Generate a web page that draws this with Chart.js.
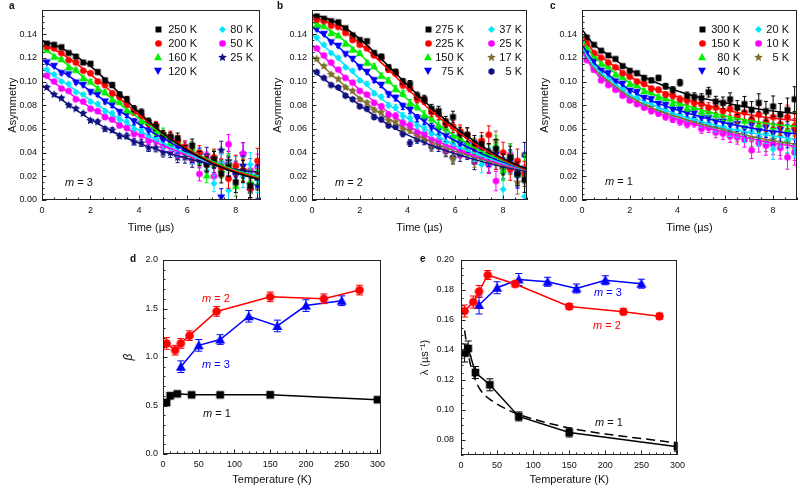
<!DOCTYPE html>
<html>
<head>
<meta charset="utf-8">
<script src="https://cdn.jsdelivr.net/npm/chart.js@4"></script>
<style>
  body { margin: 0; background: #fff; width: 800px; height: 489px; position: relative; overflow: hidden;
         font-family: 'Liberation Sans', Arial, Helvetica, sans-serif; color: #111; }
  canvas { position: absolute; }
  .tag { position: absolute; font-weight: bold; font-size: 10px; line-height: 12px; }
  .ann { position: absolute; font-size: 11px; line-height: 14px; white-space: nowrap; }
</style>
</head>
<body>
<canvas id="cA" width="265" height="240" style="left:0;top:0"></canvas>
<canvas id="cB" width="267" height="240" style="left:265px;top:0"></canvas>
<canvas id="cC" width="272" height="240" style="left:530px;top:0"></canvas>
<canvas id="cD" width="290" height="249" style="left:110px;top:240px"></canvas>
<canvas id="cE" width="290" height="249" style="left:400px;top:240px"></canvas>

<div class="tag" style="left:9px;top:0">a</div>
<div class="tag" style="left:277px;top:0">b</div>
<div class="tag" style="left:550px;top:0">c</div>
<div class="tag" style="left:130px;top:253px">d</div>
<div class="tag" style="left:420px;top:253px">e</div>

<div class="ann" style="left:65px;top:175px"><i>m</i> = 3</div>
<div class="ann" style="left:335px;top:175px"><i>m</i> = 2</div>
<div class="ann" style="left:605px;top:174px"><i>m</i> = 1</div>
<div class="ann" style="left:202px;top:291px;color:#f00"><i>m</i> = 2</div>
<div class="ann" style="left:202px;top:357px;color:#00f"><i>m</i> = 3</div>
<div class="ann" style="left:203px;top:406px"><i>m</i> = 1</div>
<div class="ann" style="left:594px;top:285px;color:#00f"><i>m</i> = 3</div>
<div class="ann" style="left:593px;top:318px;color:#f00"><i>m</i> = 2</div>
<div class="ann" style="left:595px;top:415px"><i>m</i> = 1</div>

<script>
// time axis shared by the asymmetry spectra (a, b, c)
const tData = [0.2, 0.5, 0.8, 1.1, 1.4, 1.7, 2.0, 2.3, 2.6, 2.9, 3.2, 3.5, 3.8, 4.1, 4.4, 4.7, 5.0, 5.3, 5.6, 5.9,
  6.2, 6.5, 6.8, 7.1, 7.4, 7.7, 8.0, 8.3, 8.6, 8.9];
const errData = [0.0012, 0.0012, 0.0013, 0.0013, 0.0014, 0.0015, 0.0016, 0.0017, 0.0019, 0.0020, 0.0022, 0.0024,
  0.0026, 0.0028, 0.0031, 0.0034, 0.0037, 0.0041, 0.0045, 0.0049, 0.0054, 0.0059, 0.0064, 0.0070, 0.0076, 0.0082,
  0.0088, 0.0094, 0.0100, 0.0106];
const tFit = [0, 0.5, 1, 2, 3, 4, 5, 6, 7, 8, 9];

// a: m = 3
const aLabels = ['250 K', '200 K', '160 K', '120 K', '80 K', '50 K', '25 K'];
const a250 = [.132,.131,.129,.124,.121,.116,.115,.108,.101,.097,.089,.085,.077,.074,.066,.062,.055,.053,.052,.041,.046,.035,.030,.034,.022,.028,.015,.024,.012,.019];
const a200 = [.129,.128,.124,.118,.116,.109,.107,.100,.097,.090,.087,.081,.074,.071,.065,.063,.055,.054,.050,.045,.038,.040,.031,.036,.027,.018,.029,.025,.010,.033];
const a160 = [.127,.121,.119,.112,.110,.103,.100,.094,.091,.085,.083,.076,.075,.067,.066,.058,.057,.049,.050,.042,.044,.036,.021,.035,.026,.031,.012,.026,.016,.024];
const a120 = [.116,.113,.107,.106,.099,.097,.091,.089,.083,.080,.074,.072,.066,.064,.058,.057,.050,.050,.044,.044,.037,.038,.030,.034,.002,.029,.020,.028,.012,.022];
const a80 = [.110,.106,.100,.098,.091,.089,.083,.081,.075,.073,.068,.066,.060,.059,.054,.052,.047,.046,.041,.041,.036,.037,.025,.014,.031,.008,.028,.020,.030,.017];
const a50 = [.105,.100,.094,.092,.085,.083,.077,.075,.070,.068,.063,.061,.056,.055,.050,.050,.045,.045,.040,.040,.036,.022,.034,.020,.031,.047,.023,.039,.025,.028];
const a25 = [.095,.089,.086,.080,.077,.073,.067,.066,.060,.059,.054,.054,.049,.048,.044,.044,.040,.040,.036,.036,.033,.033,.038,.030,.042,.033,.024,.039,.008,.012];
const aFit250 = [.134,.131,.126,.113,.094,.074,.056,.042,.031,.023,.017];
const aFit200 = [.131,.127,.121,.106,.089,.072,.056,.043,.032,.024,.018];
const aFit160 = [.128,.122,.115,.099,.084,.069,.055,.043,.033,.025,.019];
const aFit120 = [.118,.112,.106,.092,.078,.064,.052,.041,.032,.025,.019];
const aFit80 = [.112,.105,.098,.084,.071,.059,.048,.039,.031,.025,.020];
const aFit50 = [.107,.099,.092,.078,.066,.055,.046,.038,.031,.025,.020];
const aFit25 = [.097,.089,.082,.068,.057,.048,.041,.035,.030,.026,.023];

// b: m = 2
const bLabels = ['275 K', '225 K', '150 K', '75 K', '37 K', '25 K', '17 K', '5 K'];
const b275 = [.155,.153,.151,.150,.145,.139,.135,.134,.124,.121,.112,.108,.100,.098,.088,.085,.077,.075,.066,.070,.056,.055,.048,.047,.040,.043,.030,.036,.022,.017];
const b225 = [.152,.151,.147,.146,.141,.135,.131,.128,.122,.120,.110,.107,.097,.094,.085,.084,.074,.072,.064,.062,.058,.055,.045,.050,.055,.034,.040,.026,.033,.022];
const b150 = [.148,.147,.141,.139,.132,.127,.124,.116,.113,.105,.101,.094,.090,.082,.079,.072,.069,.063,.061,.054,.053,.047,.046,.040,.039,.046,.025,.038,.022,.028];
const b75 = [.144,.140,.133,.130,.123,.119,.112,.108,.101,.097,.089,.086,.079,.076,.069,.067,.061,.059,.054,.052,.047,.046,.042,.041,.036,.038,.031,.033,.020,.026];
const b37 = [.137,.131,.124,.120,.112,.109,.101,.098,.090,.087,.080,.078,.071,.069,.063,.061,.056,.055,.049,.048,.044,.043,.039,.030,.036,.037,.009,.032,.022,.003];
const b25 = [.128,.122,.116,.110,.103,.099,.092,.089,.082,.079,.072,.071,.065,.063,.057,.056,.051,.050,.045,.045,.041,.041,.037,.044,.030,.016,.031,.038,.021,.027];
const b17 = [.119,.113,.106,.102,.095,.092,.085,.082,.076,.074,.067,.066,.060,.059,.054,.053,.046,.048,.042,.035,.041,.043,.034,.038,.030,.050,.026,.031,.015,.022];
const b5 = [.108,.103,.097,.095,.088,.085,.079,.077,.070,.068,.063,.062,.056,.048,.051,.050,.045,.045,.041,.036,.038,.040,.032,.036,.031,.034,.027,.032,.024,.038];
const bFit275 = [.156,.154,.150,.136,.117,.097,.078,.061,.047,.035,.026];
const bFit225 = [.154,.151,.147,.132,.114,.094,.075,.059,.045,.034,.025];
const bFit150 = [.150,.146,.140,.123,.104,.085,.068,.054,.042,.033,.025];
const bFit75 = [.146,.139,.131,.113,.094,.077,.062,.050,.040,.032,.025];
const bFit37 = [.140,.130,.121,.102,.084,.069,.057,.046,.038,.031,.025];
const bFit25 = [.131,.121,.111,.093,.077,.063,.052,.043,.036,.030,.025];
const bFit17 = [.122,.112,.103,.086,.071,.059,.049,.041,.035,.029,.025];
const bFit5 = [.110,.102,.095,.080,.066,.055,.046,.039,.033,.028,.024];

// c: m = 1
const cLabels = ['300 K', '150 K', '80 K', '40 K', '20 K', '10 K', '5 K'];
const c300 = [.137,.131,.126,.122,.119,.113,.109,.107,.103,.101,.103,.096,.093,.099,.088,.087,.086,.091,.083,.082,.085,.078,.081,.076,.082,.075,.079,.072,.076,.085];
const c150 = [.132,.124,.120,.116,.112,.107,.104,.100,.098,.094,.093,.089,.088,.085,.084,.082,.081,.078,.078,.075,.077,.071,.074,.068,.072,.066,.070,.064,.070,.062];
const c80 = [.129,.122,.115,.113,.106,.104,.098,.097,.092,.091,.087,.086,.082,.082,.078,.079,.075,.075,.072,.072,.069,.070,.067,.068,.064,.067,.062,.065,.060,.064];
const c40 = [.124,.117,.109,.107,.100,.098,.092,.091,.086,.085,.081,.080,.076,.076,.073,.073,.069,.069,.066,.066,.063,.064,.060,.063,.058,.061,.056,.059,.054,.058];
const c20 = [.121,.114,.106,.103,.097,.094,.088,.087,.082,.082,.077,.076,.072,.072,.069,.069,.065,.065,.062,.062,.059,.059,.055,.058,.053,.056,.043,.054,.050,.046];
const c10 = [.118,.110,.101,.097,.093,.088,.084,.081,.078,.075,.073,.070,.068,.066,.064,.065,.060,.061,.057,.056,.054,.053,.051,.042,.048,.046,.047,.044,.036,.040];
const c5 = [.121,.110,.104,.101,.095,.092,.086,.085,.080,.079,.075,.074,.070,.070,.066,.067,.063,.063,.060,.060,.057,.055,.056,.052,.053,.049,.051,.047,.049,.044];
const cFit300 = [.144,.131,.124,.110,.100,.092,.086,.082,.078,.075,.073];
const cFit150 = [.139,.125,.118,.104,.094,.087,.081,.076,.072,.069,.067];
const cFit80 = [.136,.121,.113,.099,.089,.082,.076,.071,.067,.064,.062];
const cFit40 = [.131,.116,.107,.093,.083,.076,.070,.065,.061,.058,.056];
const cFit20 = [.129,.113,.104,.089,.080,.072,.066,.061,.057,.054,.051];
const cFit10 = [.126,.109,.100,.085,.075,.068,.062,.057,.052,.048,.045];
const cFit5 = [.127,.111,.102,.087,.077,.070,.064,.059,.054,.050,.047];

// d: beta vs temperature
const dT2 = [5, 17, 25, 37, 75, 150, 225, 275];
const dBeta2 = [1.14, 1.07, 1.14, 1.22, 1.47, 1.62, 1.60, 1.69];
const dErr2 = [0.06, 0.05, 0.05, 0.05, 0.05, 0.05, 0.05, 0.05];
const dT3 = [25, 50, 80, 120, 160, 200, 250];
const dBeta3 = [0.90, 1.12, 1.18, 1.42, 1.32, 1.53, 1.58];
const dErr3 = [0.06, 0.06, 0.05, 0.06, 0.06, 0.06, 0.05];
const dT1 = [5, 10, 20, 40, 80, 150, 300];
const dBeta1 = [0.53, 0.60, 0.62, 0.61, 0.61, 0.61, 0.56];
const dErr1 = [0.03, 0.03, 0.02, 0.02, 0.02, 0.03, 0.02];

// e: lambda vs temperature
const eLam2 = [0.166, 0.172, 0.179, 0.190, 0.184, 0.169, 0.1655, 0.1625];
const eErr2 = [0.004, 0.004, 0.004, 0.003, 0.002, 0.002, 0.002, 0.002];
const eLam3 = [0.170, 0.1815, 0.187, 0.1855, 0.181, 0.1865, 0.1842];
const eErr3 = [0.006, 0.004, 0.004, 0.003, 0.003, 0.003, 0.003];
const eLam1 = [0.138, 0.141, 0.125, 0.1168, 0.0957, 0.085, 0.0755];
const eErr1 = [0.006, 0.005, 0.004, 0.004, 0.003, 0.003, 0.003];
const eFitT = [5, 8, 10, 15, 20, 26, 35, 50, 75, 100, 150, 200, 250, 300];
const eFitLam = [0.153, 0.143, 0.137, 0.127, 0.120, 0.114, 0.109, 0.104, 0.098, 0.094, 0.088, 0.084, 0.081, 0.078];

const FONT = "'Liberation Sans', Arial, Helvetica, sans-serif";
Chart.defaults.font.family = FONT;
Chart.defaults.color = '#111';
Chart.defaults.animation = false;

function marker(shape, color, size) {
  const c = document.createElement('canvas');
  c.width = c.height = size + 2;
  const g = c.getContext('2d');
  const m = (size + 2) / 2, r = size / 2;
  g.fillStyle = color;
  g.beginPath();
  if (shape === 'square') g.rect(m - r * 0.85, m - r * 0.85, r * 1.7, r * 1.7);
  else if (shape === 'circle') g.arc(m, m, r * 0.95, 0, 2 * Math.PI);
  else if (shape === 'up' || shape === 'down') {
    const s = shape === 'up' ? 1 : -1;
    g.moveTo(m, m - s * r); g.lineTo(m + r, m + s * r * 0.8); g.lineTo(m - r, m + s * r * 0.8);
  } else if (shape === 'diamond') {
    g.moveTo(m, m - r); g.lineTo(m + r, m); g.lineTo(m, m + r); g.lineTo(m - r, m);
  } else {
    const n = shape === 'star' ? 10 : 6;
    for (let k = 0; k < n; k++) {
      const rr = shape === 'star' && k % 2 ? r * 0.45 : r;
      const ang = -Math.PI / 2 + k * 2 * Math.PI / n;
      g.lineTo(m + rr * Math.cos(ang), m + rr * Math.sin(ang));
    }
  }
  g.closePath();
  g.fill();
  return c;
}

// frame with inward major/minor ticks on the left and bottom
const boxTicks = {
  id: 'boxTicks',
  afterDatasetsDraw(chart, args, o) {
    const { ctx, chartArea: a } = chart;
    ctx.save();
    ctx.strokeStyle = '#222';
    ctx.lineWidth = 1;
    ctx.strokeRect(Math.round(a.left) + 0.5, Math.round(a.top) + 0.5,
      Math.round(a.right - a.left) - 1, Math.round(a.bottom - a.top) - 1);
    const mark = (scale, step, len) => {
      const first = Math.ceil(scale.min / step - 1e-6);
      for (let i = first; i * step <= scale.max + step * 1e-6; i++) {
        const p = Math.round(scale.getPixelForValue(i * step)) + 0.5;
        ctx.beginPath();
        if (scale.isHorizontal()) { ctx.moveTo(p, a.bottom); ctx.lineTo(p, a.bottom - len); }
        else { ctx.moveTo(a.left, p); ctx.lineTo(a.left + len, p); }
        ctx.stroke();
      }
    };
    mark(chart.scales.x, o.xMinor, 2.5);
    mark(chart.scales.x, o.xMajor, 4.5);
    mark(chart.scales.y, o.yMinor, 2.5);
    mark(chart.scales.y, o.yMajor, 4.5);
    ctx.restore();
  }
};

const errorBars = {
  id: 'errorBars',
  beforeDatasetDraw(chart, args) {
    const ds = chart.data.datasets[args.index];
    if (!ds.errors) return;
    const { ctx, chartArea: a } = chart;
    const ys = chart.scales.y;
    ctx.save();
    ctx.beginPath();
    ctx.rect(a.left, a.top, a.right - a.left, a.bottom - a.top);
    ctx.clip();
    ctx.strokeStyle = ds.borderColor;
    ctx.lineWidth = 1;
    args.meta.data.forEach((pt, i) => {
      const v = ds.data[i].y, e = ds.errors[i], c = ds.cap;
      const y1 = ys.getPixelForValue(v - e), y2 = ys.getPixelForValue(v + e);
      ctx.beginPath();
      ctx.moveTo(pt.x, y1); ctx.lineTo(pt.x, y2);
      ctx.moveTo(pt.x - c, y1); ctx.lineTo(pt.x + c, y1);
      ctx.moveTo(pt.x - c, y2); ctx.lineTo(pt.x + c, y2);
      ctx.stroke();
    });
    ctx.restore();
  }
};

// two-column legend inside the plot
const boxLegend = {
  id: 'boxLegend',
  afterDraw(chart, args, o) {
    if (!o.mx) return;
    const { ctx, chartArea: a } = chart;
    const items = chart.data.datasets.filter(d => d.inLegend);
    ctx.save();
    ctx.font = '11px ' + FONT;
    ctx.fillStyle = '#111';
    ctx.textAlign = 'right';
    ctx.textBaseline = 'middle';
    items.forEach((d, i) => {
      const col = i < o.perCol ? 0 : 1, row = i % o.perCol;
      const y = a.top + o.top + row * o.gap;
      const img = d.pointStyle;
      ctx.drawImage(img, Math.round(a.left + o.mx[col] - img.width / 2), Math.round(y - img.height / 2));
      ctx.fillText(d.label, a.left + o.tx[col], y + 0.5);
    });
    ctx.restore();
  }
};

function scales(g) {
  return {
    x: {
      type: 'linear', min: g.xMin, max: g.xMax,
      afterFit: s => { s.height = g.xH; },
      grid: { display: false, drawTicks: false }, border: { display: false },
      ticks: { stepSize: g.xStep, includeBounds: false, autoSkip: false, maxRotation: 0, padding: 5, font: { size: 9 } },
      title: { display: true, text: g.xTitle, font: { size: 11 }, padding: { top: 0, bottom: g.xTitlePad } }
    },
    y: {
      type: 'linear', min: g.yMin, max: g.yMax,
      afterFit: s => { s.width = g.yW; },
      grid: { display: false, drawTicks: false }, border: { display: false },
      ticks: {
        stepSize: g.yStep, includeBounds: false, autoSkip: false, padding: g.yPad, font: { size: 9 },
        callback: v => (v > g.yLabelMax + 1e-9 ? '' : v.toFixed(g.yDec))
      },
      title: { display: true, text: g.yTitle, font: { size: g.yTitleSize || 11, style: g.yTitleStyle || 'normal' },
        padding: { top: g.yTitlePad, bottom: 0 } }
    }
  };
}

function makeChart(id, datasets, g, legend) {
  return new Chart(document.getElementById(id), {
    type: 'scatter',
    data: { datasets },
    options: {
      responsive: false,
      events: [],
      layout: { padding: { top: g.padTop, right: g.padRight, left: 0, bottom: 0 } },
      plugins: {
        legend: { display: false },
        tooltip: { enabled: false },
        boxTicks: { xMajor: g.xStep, xMinor: g.xMinor, yMajor: g.yStep, yMinor: g.yMinor },
        boxLegend: legend || {}
      },
      scales: scales(g)
    },
    plugins: [errorBars, boxTicks, boxLegend]
  });
}

function spectrum(labels, series, fits, colors, shapes) {
  const sets = [];
  series.forEach((ys, k) => {
    const size = shapes[k] === 'star' ? 9 : shapes[k] === 'up' || shapes[k] === 'down' ? 8 : 7;
    sets.push({
      type: 'scatter', label: labels[k], inLegend: true,
      data: tData.map((t, i) => ({ x: t, y: ys[i] })),
      pointStyle: marker(shapes[k], colors[k], size), pointRadius: 4,
      backgroundColor: colors[k], borderColor: colors[k],
      errors: errData, cap: 2, order: 1
    });
  });
  fits.forEach((ys, k) => {
    sets.push({
      type: 'line', data: tFit.map((t, i) => ({ x: t, y: ys[i] })),
      borderColor: colors[k], borderWidth: 1.5, pointRadius: 0, fill: false,
      cubicInterpolationMode: 'monotone', order: 0
    });
  });
  return sets;
}

const topAxes = { xMin: 0, xMax: 9, xStep: 2, xMinor: 0.5, xTitle: 'Time (\u00b5s)', xH: 40, xTitlePad: 5.5,
  yMin: 0, yMax: 0.16, yStep: 0.02, yMinor: 0.005, yLabelMax: 0.14, yDec: 2, yTitle: 'Asymmetry', yPad: 5, padTop: 7 };

makeChart('cA',
  spectrum(aLabels, [a250, a200, a160, a120, a80, a50, a25],
    [aFit250, aFit200, aFit160, aFit120, aFit80, aFit50, aFit25],
    ['#000000', '#ff0000', '#00ee00', '#0000ff', '#00e5ff', '#ff00ff', '#101080'],
    ['square', 'circle', 'up', 'down', 'diamond', 'circle', 'star']),
  Object.assign({}, topAxes, { yW: 42, padRight: 5, yTitlePad: 6.5 }),
  { mx: [116, 180], tx: [155, 211], top: 19, gap: 14, perCol: 4 });

makeChart('cB',
  spectrum(bLabels, [b275, b225, b150, b75, b37, b25, b17, b5],
    [bFit275, bFit225, bFit150, bFit75, bFit37, bFit25, bFit17, bFit5],
    ['#000000', '#ff0000', '#00ee00', '#0000ff', '#00e5ff', '#ff00ff', '#807030', '#101080'],
    ['square', 'circle', 'up', 'down', 'diamond', 'circle', 'star', 'hex']),
  Object.assign({}, topAxes, { yW: 47, padRight: 2, yTitlePad: 6.5 }),
  { mx: [116, 179], tx: [152, 210], top: 19, gap: 14, perCol: 4 });

makeChart('cC',
  spectrum(cLabels, [c300, c150, c80, c40, c20, c10, c5],
    [cFit300, cFit150, cFit80, cFit40, cFit20, cFit10, cFit5],
    ['#000000', '#ff0000', '#00ee00', '#0000ff', '#00e5ff', '#ff00ff', '#807030'],
    ['square', 'circle', 'up', 'down', 'diamond', 'circle', 'star']),
  Object.assign({}, topAxes, { yW: 52, padRight: 1, yTitlePad: 8.5 }),
  { mx: [120, 176], tx: [158, 207], top: 19, gap: 14, perCol: 4 });

function tempSet(xs, ys, errs, color, shape, size) {
  return {
    type: 'line', data: xs.map((x, i) => ({ x, y: ys[i] })),
    borderColor: color, backgroundColor: color, borderWidth: 1.5, tension: 0, fill: false,
    pointStyle: marker(shape, color, size), pointRadius: 5, errors: errs, cap: 3.5
  };
}

const bottomAxes = { xMin: 0, xStep: 50, xMinor: 10, xTitle: 'Temperature (K)', xTitlePad: 2.5, padTop: 20 };

makeChart('cD', [
  tempSet(dT2, dBeta2, dErr2, '#ff0000', 'circle', 9),
  tempSet(dT3, dBeta3, dErr3, '#0000ff', 'up', 10),
  tempSet(dT1, dBeta1, dErr1, '#000000', 'square', 9)
], Object.assign({}, bottomAxes, { xMax: 305, xH: 35, yMin: 0, yMax: 2, yStep: 0.5, yMinor: 0.1, yLabelMax: 2,
  yDec: 1, yTitle: '\u03b2', yTitleStyle: 'italic', yTitleSize: 12, yW: 53, yPad: 5, padRight: 19, yTitlePad: 11 }));

makeChart('cE', [
  tempSet(dT2, eLam2, eErr2, '#ff0000', 'circle', 9),
  tempSet(dT3, eLam3, eErr3, '#0000ff', 'up', 10),
  tempSet(dT1, eLam1, eErr1, '#000000', 'square', 9),
  {
    type: 'line', data: eFitT.map((x, i) => ({ x, y: eFitLam[i] })),
    borderColor: '#000000', borderWidth: 1.5, borderDash: [9, 5], pointRadius: 0, fill: false,
    cubicInterpolationMode: 'monotone'
  }
], Object.assign({}, bottomAxes, { xMax: 300, xH: 34, yMin: 0.07, yMax: 0.20, yStep: 0.02, yMinor: 0.005, yLabelMax: 0.2,
  yDec: 2, yTitle: '\u03bb (\u00b5s\u207b\u00b9)', yW: 61, yPad: 7, padRight: 12, yTitlePad: 18 }));
</script>
</body>
</html>
